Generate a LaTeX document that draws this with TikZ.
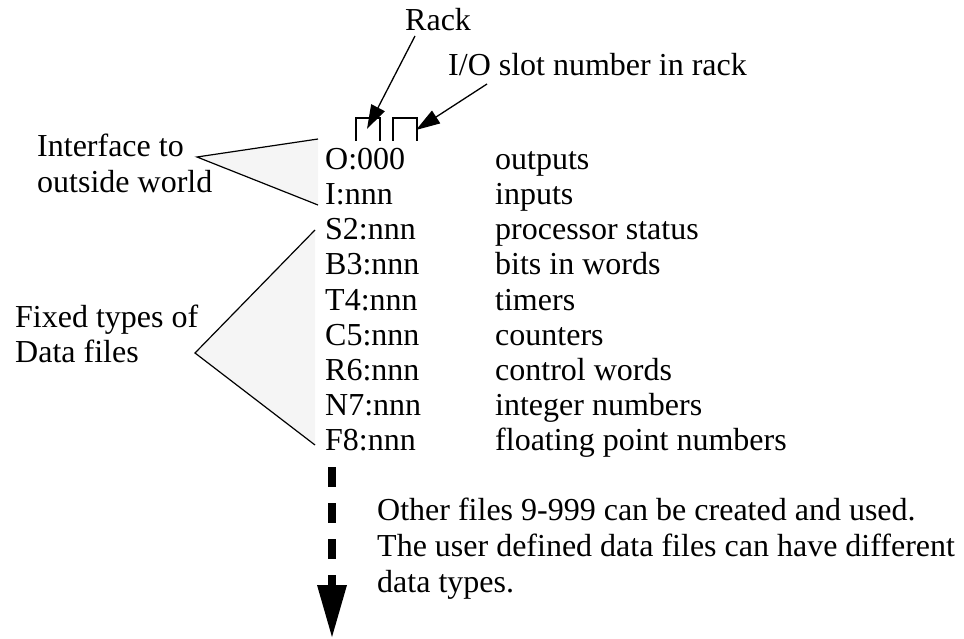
\documentclass[tikz,border=0pt]{standalone}
\usepackage{fontspec}
\setmainfont{Liberation Serif}
\usepackage{tikz}
\usetikzlibrary{arrows.meta}
\definecolor{paleGray}{HTML}{F5F5F5}
\tikzset{
  txt/.style={anchor=base west,inner sep=0pt,font=\fontsize{32}{35}\selectfont},
  wedge/.style={draw,fill=paleGray,line width=1.2pt},
  arr/.style={-{Triangle[length=24pt,width=15pt]},line width=1.3pt},
  bracket/.style={line width=1.6pt},
  more/.style={line width=8.5pt,dash pattern=on 20pt off 16pt,
    -{Triangle[length=52pt,width=30pt,line width=0pt]}},
}

\begin{document}
\begin{tikzpicture}[x=1pt,y=-1pt]
\useasboundingbox (0,0) rectangle (964,639);
% grey wedges pointing to the groups
\coordinate (ifApex) at (197,157);
\coordinate (fxApex) at (195,353);
\draw[wedge] (318,139) -- (ifApex) -- (318,205);
\draw[wedge] (315,230) -- (fxApex) -- (315,445);
\node[txt] (iface) at (37,157) {Interface to};
\node[txt] (outside) at (37,193) {outside world};
\node[txt] (fixed) at (15,327) {Fixed types of};
\node[txt] (dfiles) at (15,362) {Data files};
% address column
\node[txt] (o) at (325,170) {O:000};
\node[txt] (i) at (325,205) {I:nnn};
\node[txt] (s) at (325,240) {S2:nnn};
\node[txt] (b) at (325,275) {B3:nnn};
\node[txt] (t) at (325,310) {T4:nnn};
\node[txt] (c) at (325,345) {C5:nnn};
\node[txt] (r) at (325,380) {R6:nnn};
\node[txt] (n) at (325,415) {N7:nnn};
\node[txt] (f) at (325,450) {F8:nnn};
% meaning column
\node[txt] (oD) at (495,170) {outputs};
\node[txt] (iD) at (495,205) {inputs};
\node[txt] (sD) at (495,240) {processor status};
\node[txt] (bD) at (495,275) {bits in words};
\node[txt] (tD) at (495,310) {timers};
\node[txt] (cD) at (495,345) {counters};
\node[txt] (rD) at (495,380) {control words};
\node[txt] (nD) at (495,415) {integer numbers};
\node[txt] (fD) at (495,450) {floating point numbers};
% rack and slot
\node[txt] (rack) at (405,31) {Rack};
\node[txt] (slot) at (448,76) {I/O slot number in rack};
\draw[bracket] (356,141) -- (356,118) -- (380,118) -- (380,141);
\draw[bracket] (393,141) -- (393,118) -- (417,118) -- (417,141);
\coordinate (rackTip) at (367,129);
\coordinate (slotTip) at (416,130);
\draw[arr] ([xshift=10pt,yshift=-5pt]rack.base west) -- (rackTip);
\draw[arr] ([xshift=39pt,yshift=-8pt]slot.base west) -- (slotTip);
% user files
\node[txt] (other1) at (377,520) {Other files 9-999 can be created and used.};
\node[txt] (other2) at (377,556) {The user defined data files can have different};
\node[txt] (other3) at (377,592) {data types.};
\coordinate (moreEnd) at (332,637);
\draw[more] ([xshift=7pt,yshift=-17pt]f.base west) -- (moreEnd);
\end{tikzpicture}
\end{document}
